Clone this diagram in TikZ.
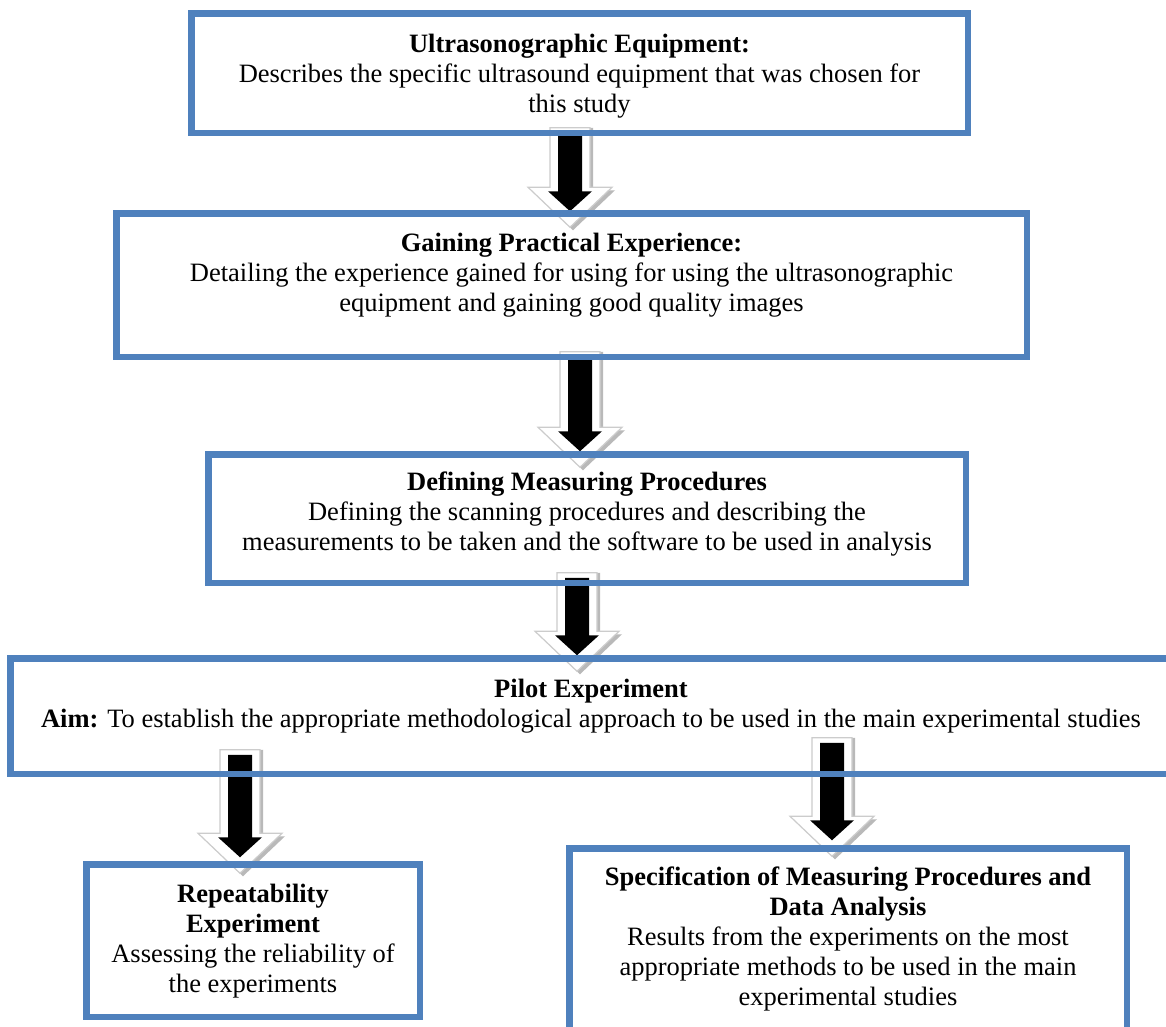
\documentclass[tikz,border=0pt]{standalone}
\usepackage{fontspec}
\setmainfont{Liberation Serif}
\usetikzlibrary{calc}
\pgfdeclarelayer{bg}
\pgfsetlayers{bg,main}
\definecolor{boxblue}{HTML}{4F81BD}
\tikzset{
  flowbox/.style={draw=boxblue, line width=6.5pt, rectangle, inner sep=0pt, outer sep=0pt},
  boxtext/.style={anchor=north, align=center, inner sep=0pt, font=\fontsize{26.5}{30}\selectfont},
  arrowshadow/.style={fill=gray!55},
  arrowouter/.style={fill=white, draw=gray!40, line width=1.2pt, line join=miter},
  arrowinner/.style={fill=black},
}
\newcommand{\blockarrow}[2]{%
  \fill[arrowshadow] ($(#1)+(-17,0)$) -- ($(#2)+(-17,-21)$) -- ($(#2)+(-39,-21)$) -- ($(#2)+(3,19)$) -- ($(#2)+(45,-21)$) -- ($(#2)+(23,-21)$) -- ($(#1)+(23,0)$) -- cycle;
  \filldraw[arrowouter] ($(#1)+(-20,0)$) -- ($(#2)+(-20,-24)$) -- ($(#2)+(-42,-24)$) -- ($(#2)+(0,16)$) -- ($(#2)+(42,-24)$) -- ($(#2)+(20,-24)$) -- ($(#1)+(20,0)$) -- cycle;
  \fill[arrowinner] ($(#1)+(-12,5)$) -- ($(#2)+(-12,-20)$) -- ($(#2)+(-22,-20)$) -- (#2) -- ($(#2)+(22,-20)$) -- ($(#2)+(12,-20)$) -- ($(#1)+(12,5)$) -- cycle;
}
\begin{document}
\begin{tikzpicture}[x=1pt,y=-1pt]
\useasboundingbox (0,0) rectangle (1166,1026);
\clip (0,0) rectangle (1166,1026);
\begin{pgfonlayer}{bg}
  \fill[white] (0,0) rectangle (1166,1026);
\end{pgfonlayer}

% boxes
\node[flowbox, minimum width=776.5pt, minimum height=119.5pt] (b1) at (579.5,73) {};
\node[flowbox, minimum width=910.5pt, minimum height=143.5pt] (b2) at (571.5,285) {};
\node[flowbox, minimum width=757.5pt, minimum height=128.5pt] (b3) at (587,518.5) {};
\node[flowbox, minimum width=1161.5pt, minimum height=115.5pt] (b4) at (591,716) {};
\node[flowbox, minimum width=333.5pt, minimum height=152.5pt] (b5) at (253,940.5) {};
\node[flowbox, minimum width=557.5pt, minimum height=193.5pt] (b6) at (848,945) {};

% arrow positions
\coordinate (ax1) at (570,0);
\coordinate (ax2) at (580,0);
\coordinate (ax3) at (577,0);
\coordinate (ax4) at (240,0);
\coordinate (ax5) at (832,0);
\coordinate (a1t) at ($(b1.south -| ax1)+(0,-5)$);
\coordinate (a1h) at ($(b2.north -| ax1)+(0,-2)$);
\coordinate (a2t) at ($(b2.south -| ax2)+(0,-5)$);
\coordinate (a2h) at ($(b3.north -| ax2)+(0,-3)$);
\coordinate (a3t) at ($(b3.south -| ax3)+(0,-10)$);
\coordinate (a3h) at ($(b4.north -| ax3)+(0,-3)$);
\coordinate (a4t) at ($(b4.south -| ax4)+(0,-24)$);
\coordinate (a4h) at ($(b5.north -| ax4)+(0,-7)$);
\coordinate (a5t) at ($(b4.south -| ax5)+(0,-36)$);
\coordinate (a5h) at ($(b6.north -| ax5)+(0,-8)$);

\begin{pgfonlayer}{bg}
  \blockarrow{a1t}{a1h}
  \blockarrow{a2t}{a2h}
  \blockarrow{a3t}{a3h}
  \blockarrow{a4t}{a4h}
  \blockarrow{a5t}{a5h}
\end{pgfonlayer}

% texts
\node[boxtext] (t1) at (579.5,34) {\textbf{Ultrasonographic Equipment:}\\Describes the specific ultrasound equipment that was chosen for\\this study};
\node[boxtext] (t2) at (571.5,233) {\textbf{Gaining Practical Experience:}\\Detailing the experience gained for using for using the ultrasonographic\\equipment and gaining good quality images};
\node[boxtext] (t3) at (587,472) {\textbf{Defining Measuring Procedures}\\Defining the scanning procedures and describing the\\measurements to be taken and the software to be used in analysis};
\node[boxtext] (t4) at (591,679) {\textbf{Pilot Experiment}\\\textbf{Aim:} To establish the appropriate methodological approach to be used in the main experimental studies};
\node[boxtext] (t5) at (253,884) {\textbf{Repeatability}\\\textbf{Experiment}\\Assessing the reliability of\\the experiments};
\node[boxtext] (t6) at (848,867) {\textbf{Specification of Measuring Procedures and}\\\textbf{Data Analysis}\\Results from the experiments on the most\\appropriate methods to be used in the main\\experimental studies};
\end{tikzpicture}
\end{document}
